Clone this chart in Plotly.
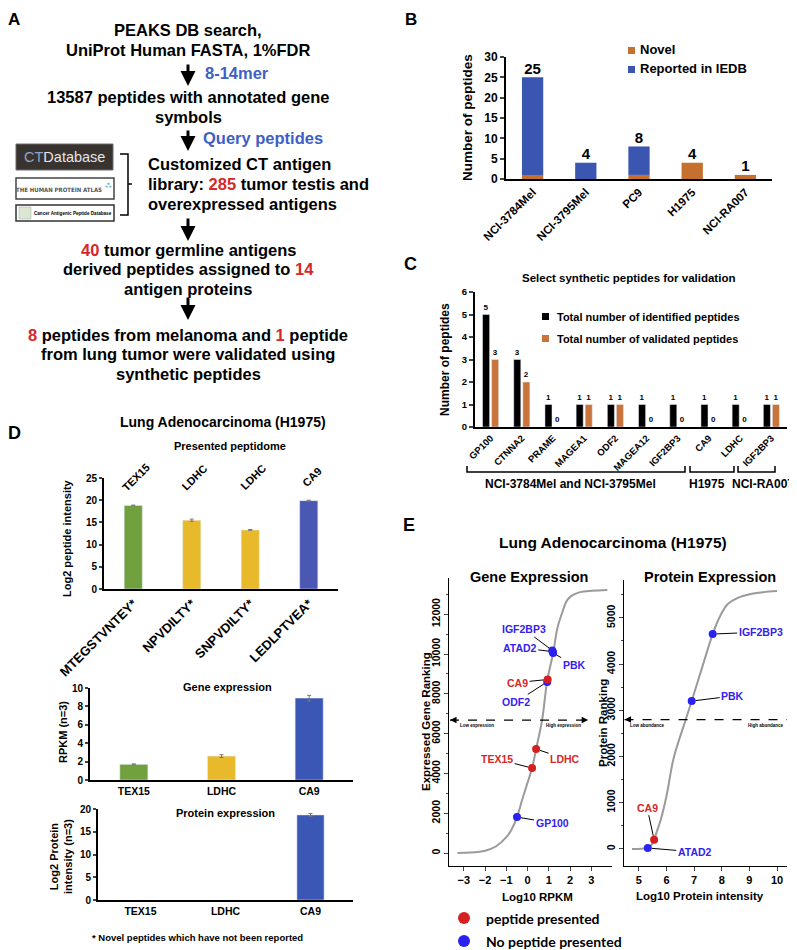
import plotly.graph_objects as go

# The page body adds an 8 px margin, so the figure is 8 px smaller on each axis and
# every reference pixel position is shifted by that margin.
PAGE_W, PAGE_H = 797, 950
OFF = 8
W, H = PAGE_W - OFF, PAGE_H - OFF
FONT = "Liberation Sans, Arial, sans-serif"

def X(p):
    return (p - OFF) / W

def Y(p):
    return 1 - (p - OFF) / H

# ---------------- data ----------------
# Panel B
b_cells = ["NCI-3784Mel", "NCI-3795Mel", "PC9", "H1975", "NCI-RA007"]
b_novel = [1, 0, 1, 4, 1]
b_iedb = [24, 4, 7, 0, 0]
b_total = [25, 4, 8, 4, 1]

# Panel C
c_antigens = ["GP100", "CTNNA2", "PRAME", "MAGEA1", "ODF2", "MAGEA12", "IGF2BP3", "CA9", "LDHC", "IGF2BP3"]
c_identified = [5, 3, 1, 1, 1, 1, 1, 1, 1, 1]
c_validated = [3, 2, 0, 1, 1, 0, 0, 0, 0, 1]
c_groups = ["NCI-3784Mel and NCI-3795Mel", "H1975", "NCI-RA007"]

# Panel D
d_genes = ["TEX15", "LDHC", "LDHC", "CA9"]
d_peptides = ["MTEGSTVNTEY*", "NPVDILTY*", "SNPVDILTY*", "LEDLPTVEA*"]
d_intensity = [18.8, 15.5, 13.3, 19.9]
d_intensity_err = [0.1, 0.25, 0.1, 0.1]
expr_genes = ["TEX15", "LDHC", "CA9"]
rpkm = [1.7, 2.6, 8.9]
rpkm_err = [0.05, 0.15, 0.3]
prot_int = [None, None, 18.7]
prot_int_err = [0, 0, 0.3]

# Panel E - gene expression ranking curve
gene_curve_x = [-3.3, -3.0, -2.5, -2.0, -1.5, -1.0, -0.75, -0.5, -0.25, 0.0, 0.21, 0.40, 0.68,
                0.92, 1.20, 1.40, 1.62, 1.86, 2.10, 2.47, 3.00, 3.75]
gene_curve_y = [0, 10, 40, 120, 330, 800, 1200, 1810, 2700, 3550, 4270, 5230, 6680,
                8640, 10050, 11300, 12060, 12710, 12950, 13110, 13180, 13220]
gene_names = ["GP100", "ODF2", "PBK", "ATAD2", "IGF2BP3", "TEX15", "LDHC", "CA9"]
gene_x = [-0.5, 0.92, 1.20, 1.18, 1.16, 0.21, 0.40, 0.94]
gene_y = [1810, 8600, 10050, 10120, 10180, 4270, 5230, 8720]
gene_presented = [False, False, False, False, False, True, True, True]

# Panel E - protein ranking curve
prot_curve_x = [4.75, 5.1, 5.32, 5.45, 5.55, 5.65, 5.79, 6.0, 6.26, 6.69, 6.91, 7.3, 7.67,
                7.95, 8.2, 8.6, 9.0, 9.5, 10.0]
prot_curve_y = [0, 5, 20, 80, 200, 380, 630, 1150, 1970, 2790, 3200, 3950, 4650,
                5050, 5290, 5440, 5510, 5555, 5580]
prot_names = ["ATAD2", "PBK", "IGF2BP3", "CA9"]
prot_x = [5.32, 6.91, 7.67, 5.55]
prot_y = [20, 3200, 4650, 200]
prot_presented = [False, False, False, True]

# ---------------- styles ----------------
ORANGE = "#C5702F"
BLUE_B = "#3B56B1"
GREEN = "#71A03E"
YELLOW = "#E8B92A"
BLUE_D = "#4A57B3"
RED_T = "#D62828"
BLUE_T = "#3E5FC4"
RED_P = "#D42020"
BLUE_P = "#2A22F0"
d_colors = [GREEN, YELLOW, YELLOW, BLUE_D]
expr_colors = [GREEN, YELLOW, "#3A57B5"]

fig = go.Figure()

# ---- Panel B ----
bx = list(range(len(b_cells)))
fig.add_trace(go.Bar(x=bx, y=b_novel, width=0.4, marker=dict(color=ORANGE, line=dict(width=0)),
                     xaxis="x", yaxis="y", showlegend=False))
fig.add_trace(go.Bar(x=bx, y=b_iedb, base=b_novel, width=0.4,
                     marker=dict(color=BLUE_B, line=dict(width=0)),
                     xaxis="x", yaxis="y", showlegend=False))
fig.add_trace(go.Scatter(x=bx, y=b_total, mode="text", text=[str(v) for v in b_total],
                         textposition="top center",
                         textfont=dict(family=FONT, size=15, color="black", weight="bold"),
                         xaxis="x", yaxis="y", showlegend=False, cliponaxis=False))

# ---- Panel C ----
cx = list(range(len(c_antigens)))
lab_font = dict(family=FONT, size=8, color="black", weight="bold")
fig.add_trace(go.Bar(x=cx, y=c_identified, width=0.226, offset=-0.258, marker=dict(color="black"),
                     text=c_identified, textposition="outside", cliponaxis=False,
                     textfont=lab_font, outsidetextfont=lab_font, insidetextfont=lab_font,
                     xaxis="x2", yaxis="y2", showlegend=False))
fig.add_trace(go.Bar(x=cx, y=c_validated, width=0.226, offset=0.032, marker=dict(color="#C8743A"),
                     text=c_validated, textposition="outside", cliponaxis=False,
                     textfont=lab_font, outsidetextfont=lab_font, insidetextfont=lab_font,
                     xaxis="x2", yaxis="y2", showlegend=False))

# ---- Panel D ----
err_style = dict(type="data", thickness=1, width=2, color="#777")
fig.add_trace(go.Bar(x=list(range(len(d_peptides))), y=d_intensity, width=0.31,
                     marker=dict(color=d_colors),
                     error_y=dict(array=d_intensity_err, **err_style),
                     xaxis="x3", yaxis="y3", showlegend=False))
fig.add_trace(go.Bar(x=list(range(len(expr_genes))), y=rpkm, width=0.32,
                     marker=dict(color=expr_colors),
                     error_y=dict(array=rpkm_err, **err_style),
                     xaxis="x4", yaxis="y4", showlegend=False))
fig.add_trace(go.Bar(x=list(range(len(expr_genes))), y=prot_int, width=0.32,
                     marker=dict(color=expr_colors),
                     error_y=dict(array=prot_int_err, **err_style),
                     xaxis="x5", yaxis="y5", showlegend=False))

# ---- Panel E ----
fig.add_trace(go.Scatter(x=gene_curve_x, y=gene_curve_y, mode="lines",
                         line=dict(color="#9A9A9A", width=2, shape="spline"),
                         xaxis="x6", yaxis="y6", showlegend=False))
fig.add_trace(go.Scatter(x=gene_x, y=gene_y, mode="markers",
                         marker=dict(size=8, color=[RED_P if p else BLUE_P for p in gene_presented]),
                         xaxis="x6", yaxis="y6", showlegend=False))
fig.add_trace(go.Scatter(x=prot_curve_x, y=prot_curve_y, mode="lines",
                         line=dict(color="#9A9A9A", width=2, shape="spline"),
                         xaxis="x7", yaxis="y7", showlegend=False))
fig.add_trace(go.Scatter(x=prot_x, y=prot_y, mode="markers",
                         marker=dict(size=8, color=[RED_P if p else BLUE_P for p in prot_presented]),
                         xaxis="x7", yaxis="y7", showlegend=False))

# ---------------- axes ----------------
def tf(size):
    return dict(family=FONT, size=size, color="black", weight="bold")

base_ax = dict(showgrid=False, zeroline=False, showline=True, linecolor="black", fixedrange=True,
               automargin=False)

layout_axes = dict(
    xaxis=dict(base_ax, domain=[X(506), X(772)], range=[-0.5, 4.5], anchor="y", linewidth=2,
               tickvals=bx, ticktext=b_cells, tickangle=-45, tickfont=tf(11.5), ticks=""),
    yaxis=dict(base_ax, domain=[Y(179), Y(57)], range=[0, 30], anchor="x", linewidth=2, dtick=5,
               ticks="outside", ticklen=4, tickwidth=1.5, tickfont=tf(12)),
    xaxis2=dict(base_ax, domain=[X(475), X(787)], range=[-0.5, 9.5], anchor="y2", linewidth=2,
                tickvals=cx, ticktext=c_antigens, tickangle=-45, tickfont=tf(9.5), ticks=""),
    yaxis2=dict(base_ax, domain=[Y(427), Y(292)], range=[0, 6], anchor="x2", linewidth=2, dtick=1,
                ticks="outside", ticklen=4, tickwidth=1.5, tickfont=tf(9.5)),
    xaxis3=dict(base_ax, domain=[X(104), X(338)], range=[-0.5, 3.5], anchor="y3", linewidth=2,
                tickvals=list(range(len(d_peptides))), ticktext=d_peptides, tickangle=-45,
                tickfont=tf(13), ticks=""),
    yaxis3=dict(base_ax, domain=[Y(589), Y(478)], range=[0, 25], anchor="x3", linewidth=2, dtick=5,
                ticks="outside", ticklen=3, tickwidth=1.5, tickfont=tf(10)),
    xaxis4=dict(base_ax, domain=[X(90), X(353)], range=[-0.5, 2.5], anchor="y4", linewidth=2,
                tickvals=list(range(len(expr_genes))), ticktext=expr_genes, tickfont=tf(10.5), ticks=""),
    yaxis4=dict(base_ax, domain=[Y(780), Y(688)], range=[0, 10], anchor="x4", linewidth=2, dtick=2,
                ticks="outside", ticklen=3, tickwidth=1.5, tickfont=tf(10)),
    xaxis5=dict(base_ax, domain=[X(98), X(353)], range=[-0.5, 2.5], anchor="y5", linewidth=2,
                tickvals=list(range(len(expr_genes))), ticktext=expr_genes, tickfont=tf(10.5), ticks=""),
    yaxis5=dict(base_ax, domain=[Y(900), Y(809)], range=[0, 20], anchor="x5", linewidth=2, dtick=5,
                ticks="outside", ticklen=3, tickwidth=1.5, tickfont=tf(10)),
    xaxis6=dict(base_ax, domain=[X(449), X(612)], range=[-3.7, 3.97], anchor="y6", linewidth=1,
                tick0=-3, dtick=1, ticks="outside", ticklen=4, tickfont=tf(11)),
    yaxis6=dict(base_ax, domain=[Y(866), Y(578)], range=[-650, 13820], anchor="x6", linewidth=1,
                tick0=0, dtick=2000, tickformat="d", tickangle=-90, ticks="outside", ticklen=4,
                tickfont=tf(10.5), minor=dict(ticks="outside", ticklen=2, dtick=1000, tick0=0)),
    xaxis7=dict(base_ax, domain=[X(624), X(787)], range=[4.46, 10.36], anchor="y7", linewidth=1,
                tick0=5, dtick=1, ticks="outside", ticklen=4, tickfont=tf(11)),
    yaxis7=dict(base_ax, domain=[Y(866), Y(580)], range=[-370, 5820], anchor="x7", linewidth=1,
                tick0=0, dtick=1000, tickformat="d", tickangle=-90, ticks="outside", ticklen=4,
                tickfont=tf(10.5), minor=dict(ticks="outside", ticklen=2, dtick=500, tick0=0)),
)

# ---------------- annotations ----------------
ann = []
shapes = []

def txt(x, y, s, size, color="black", bold=True, xanchor="center", yanchor="middle", angle=0,
        family=FONT):
    ann.append(dict(x=X(x), y=Y(y), xref="paper", yref="paper", text=s, showarrow=False,
                    font=dict(family=family, size=size, color=color,
                              weight="bold" if bold else "normal"),
                    xanchor=xanchor, yanchor=yanchor, textangle=angle))

def down_arrow(x, y0, y1):
    ann.append(dict(x=X(x), y=Y(y1), ax=0, ay=-(y1 - y0), xref="paper", yref="paper",
                    text="", showarrow=True, arrowhead=2,
                    arrowsize=1, arrowwidth=3, arrowcolor="black", standoff=0))

def red(s):
    return "<span style='color:%s'>%s</span>" % (RED_T, s)

# Panel A
txt(14, 20, "A", 17)
txt(188, 30, "PEAKS DB search,", 16.5)
txt(188, 50, "UniProt Human FASTA, 1%FDR", 16.5)
down_arrow(188, 63, 86)
txt(237, 73, "8-14mer", 16.5, BLUE_T)
txt(188, 97, "13587 peptides with annotated gene", 16.5)
txt(188, 117, "symbols", 16.5)
down_arrow(188, 129, 151)
txt(263, 138, "Query peptides", 16.5, BLUE_T)
txt(146, 164, "Customized CT antigen", 16.5, xanchor="left")
txt(146, 184, "library: " + red("285") + " tumor testis and", 16.5, xanchor="left")
txt(146, 204, "overexpressed antigens", 16.5, xanchor="left")
down_arrow(188, 217, 241)
txt(188, 250, red("40") + " tumor germline antigens", 16.5)
txt(188, 269, "derived peptides assigned to " + red("14"), 16.5)
txt(188, 289, "antigen proteins", 16.5)
down_arrow(188, 296, 320)
txt(188, 335, red("8") + " peptides from melanoma and " + red("1") + " peptide", 16.5)
txt(188, 354, "from lung tumor were validated using", 16.5)
txt(188, 374, "synthetic peptides", 16.5)

# logos (panel A)
def rect(x0, y0, x1, y1, fill, line="black", lw=1):
    shapes.append(dict(type="rect", xref="paper", yref="paper", x0=X(x0), x1=X(x1), y0=Y(y0), y1=Y(y1),
                       fillcolor=fill, line=dict(color=line, width=lw), layer="below"))

rect(16, 144, 113, 170, "#38332F", "#6a6a6a", 1)
txt(64, 157, "<span style='color:#8FA4CC'>CT</span>Database", 14.5, "#E6E6E6", bold=False)
rect(16, 178, 114, 199, "white", "#444", 1.5)
txt(59, 189, "THE HUMAN PROTEIN ATLAS", 6.0, "#555", bold=True,
    family="Liberation Sans Narrow, DejaVu Sans Condensed, sans-serif")
txt(108, 185, "⁂", 6, "#4AA3B8", bold=False)
rect(16, 205, 114, 221, "white", "#333", 1.5)
rect(19, 207, 31, 219, "#DCE6D2", "#9aa", 0.5)
txt(73, 213, "Cancer Antigenic Peptide Database", 4.6, "black", bold=True)
shapes.append(dict(type="path", xref="paper", yref="paper",
                   path="M %f %f L %f %f L %f %f L %f %f M %f %f L %f %f" % (
                       X(120), Y(154), X(128), Y(154), X(128), Y(215), X(120), Y(215),
                       X(128), Y(184), X(132), Y(184)),
                   line=dict(color="black", width=1.5)))

# Panel B
txt(411, 20, "B", 17)
txt(468, 118, "Number of peptides", 13.5, angle=-90)
rect(628, 47, 635, 54, ORANGE, ORANGE, 0)
rect(628, 66, 635, 73, BLUE_B, BLUE_B, 0)
txt(638, 50, "Novel", 13, xanchor="left")
txt(638, 69, "Reported in IEDB", 13, xanchor="left")

# Panel C
txt(411, 264, "C", 18)
txt(628, 278, "Select synthetic peptides for validation", 11.5)
txt(445, 360, "Number of peptides", 12, angle=-90)
rect(542, 313, 549, 320, "black", "black", 0)
rect(542, 335, 549, 342, "#C8743A", "#C8743A", 0)
txt(555, 316.5, "Total number of identified peptides", 11, xanchor="left")
txt(555, 338.5, "Total number of validated peptides", 11, xanchor="left")
for (x0, x1, xc), label in zip([(467, 685, 570), (690, 734, 707), (738, 775, 763)], c_groups):
    shapes.append(dict(type="path", xref="paper", yref="paper",
                       path="M %f %f L %f %f L %f %f L %f %f" % (
                           X(x0), Y(466), X(x0), Y(472), X(x1), Y(472), X(x1), Y(466)),
                       line=dict(color="black", width=1.5)))
    txt(xc, 484, label, 12)

# Panel D
txt(14, 433, "D", 18)
txt(223, 422, "Lung Adenocarcinoma (H1975)", 14)
txt(230, 446, "Presented peptidome", 11)
for i, g in enumerate(d_genes):
    ann.append(dict(x=i, y=25, xref="x3", yref="y3", text=g, showarrow=False, textangle=-45,
                    font=tf(11), xanchor="center", yanchor="middle", xshift=3, yshift=1))
txt(67, 538, "Log2 peptide intensity", 11, angle=-90)
txt(227, 687, "Gene expression", 11)
txt(63, 732, "RPKM (n=3)", 11, angle=-90)
txt(225, 813, "Protein expression", 11)
txt(61, 857, "Log2 Protein<br>intensity (n=3)", 11, angle=-90)
txt(197, 937, "* Novel peptides which have not been reported", 9.5)

# Panel E
txt(409, 525, "E", 18)
txt(613, 542, "Lung Adenocarcinoma (H1975)", 15.5)
txt(529, 577, "Gene Expression", 14.5)
txt(710, 577, "Protein Expression", 14.5)
txt(426, 722, "Expressed Gene Ranking", 11.5, angle=-90)
txt(603, 723, "Protein Ranking", 11.5, angle=-90)
txt(537, 897, "Log10 RPKM", 11.5)
txt(700, 896, "Log10 Protein intensity", 11.5)

gene_label_offsets = {"GP100": (35, 6), "ODF2": (-31, 20), "PBK": (21, 12), "ATAD2": (-33, -4),
                      "IGF2BP3": (-28, -21), "TEX15": (-35, -9), "LDHC": (29, 10), "CA9": (-30, 3)}
prot_label_offsets = {"ATAD2": (47, 4), "PBK": (41, -5), "IGF2BP3": (48, -2), "CA9": (-7, -32)}

for n, gx, gy, p in zip(gene_names, gene_x, gene_y, gene_presented):
    ox, oy = gene_label_offsets[n]
    ann.append(dict(x=gx, y=gy, xref="x6", yref="y6", text=n, showarrow=True, ax=ox, ay=oy,
                    arrowhead=0, arrowwidth=1, arrowcolor="black", standoff=4,
                    font=dict(family=FONT, size=10.5, color=RED_T if p else "#3322EE", weight="bold")))
for n, gx, gy, p in zip(prot_names, prot_x, prot_y, prot_presented):
    ox, oy = prot_label_offsets[n]
    ann.append(dict(x=gx, y=gy, xref="x7", yref="y7", text=n, showarrow=True, ax=ox, ay=oy,
                    arrowhead=0, arrowwidth=1, arrowcolor="black", standoff=4,
                    font=dict(family=FONT, size=10.5, color=RED_T if p else "#3322EE", weight="bold")))

# dashed double arrows
GENE_SPLIT = 6680
PROT_SPLIT = 2800
for xr, yr, x0, x1, yv in [("x6", "y6", -3.65, 2.85, GENE_SPLIT), ("x7", "y7", 4.48, 10.38, PROT_SPLIT)]:
    shapes.append(dict(type="line", xref=xr, yref=yr, x0=x0, x1=x1, y0=yv, y1=yv,
                       line=dict(color="black", width=1.3, dash="dash")))
    ann.append(dict(x=x0, y=yv, xref=xr, yref=yr, ax=7, ay=0, text="", showarrow=True,
                    arrowhead=2, arrowsize=1, arrowwidth=1.3, arrowcolor="black", standoff=0))
    ann.append(dict(x=x1, y=yv, xref=xr, yref=yr, ax=-7, ay=0, text="", showarrow=True,
                    arrowhead=2, arrowsize=1, arrowwidth=1.3, arrowcolor="black", standoff=0))
txt(477, 725, "Low expression", 4.5)
txt(563, 725, "High expression", 4.5)
txt(647, 725, "Low abundance", 4.5)
txt(766, 725, "High abundance", 4.5)

# legend E
for yy, col, lab in [(918, RED_P, "peptide presented"), (941, BLUE_P, "No peptide presented")]:
    shapes.append(dict(type="circle", xref="paper", yref="paper", x0=X(458), x1=X(470),
                       y0=Y(yy + 6), y1=Y(yy - 6), fillcolor=col, line=dict(width=0)))
    txt(484, yy, lab, 14, family="Lato, Liberation Sans, sans-serif", xanchor="left")

fig.update_layout(
    width=W, height=H, autosize=False,
    margin=dict(l=0, r=0, t=0, b=0, autoexpand=False),
    paper_bgcolor="white", plot_bgcolor="white",
    font=dict(family=FONT, color="black"),
    barmode="overlay",
    showlegend=False,
    annotations=ann, shapes=shapes,
    **layout_axes,
)

fig.write_html("out.html")
